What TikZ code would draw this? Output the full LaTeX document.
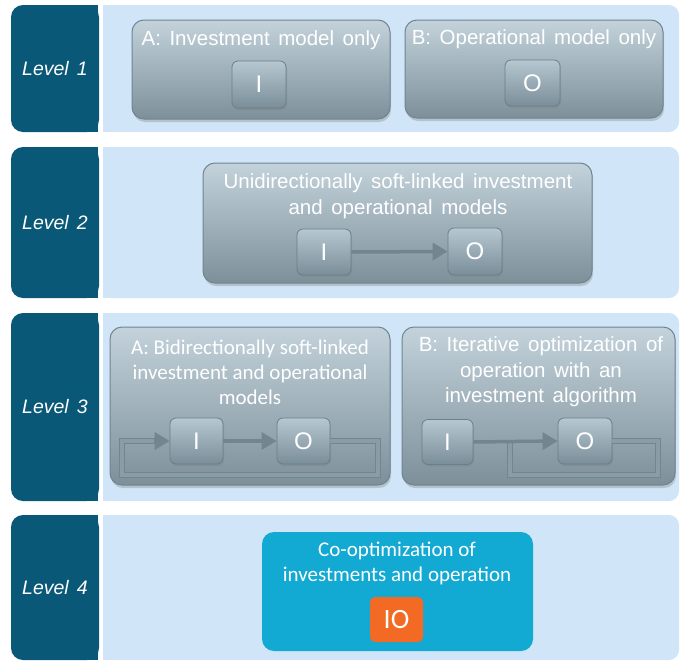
\documentclass[tikz,border=0pt]{standalone}
\usepackage{fontspec}
\setmainfont{Liberation Sans}[WordSpace=1.5]
\newfontfamily\calfont{Carlito}
\usetikzlibrary{shadows,arrows.meta}
\definecolor{dkblue}{HTML}{0A5878}
\definecolor{ltblue}{HTML}{D0E6F8}
\definecolor{gtop}{HTML}{C3D2DB}
\definecolor{gbot}{HTML}{7D909A}
\definecolor{gbord}{HTML}{6F8590}
\definecolor{stop}{HTML}{B6C7D1}
\definecolor{sbot}{HTML}{7A8E99}
\definecolor{sbord}{HTML}{6B7F89}
\definecolor{linkc}{HTML}{72868F}
\definecolor{loopin}{HTML}{8A9CA6}
\definecolor{cyanbox}{HTML}{12A9D3}
\definecolor{orangebox}{HTML}{F26A23}
\begin{document}
\begin{tikzpicture}[x=1pt,y=-1pt,
  lvl/.style={fill=dkblue, rounded corners=12pt, minimum width=88pt, inner sep=0pt,
    text=white, font=\itshape\fontsize{19.5}{23}\selectfont},
  panel/.style={fill=ltblue, rounded corners=10pt, minimum width=576pt, inner sep=0pt},
  graybox/.style={draw=gbord, line width=1pt, rounded corners=12pt, top color=gtop, bottom color=gbot,
    inner sep=0pt, drop shadow={opacity=0.35, shadow xshift=1pt, shadow yshift=-3pt}},
  smallbox/.style={draw=sbord, line width=0.8pt, rounded corners=6pt, top color=stop, bottom color=sbot,
    inner sep=0pt, text=white, font=\fontsize{24}{24}\selectfont,
    drop shadow={opacity=0.35, shadow xshift=1pt, shadow yshift=-2pt}},
  ttl/.style={text=white, align=center, inner sep=0pt, font=\fontsize{20.5}{25.5}\selectfont},
  cttl/.style={text=white, align=center, inner sep=0pt, font=\calfont\fontsize{21}{25}\selectfont},
  link/.style={draw=linkc, line width=3.5pt, -{Triangle[length=15pt,width=17pt]}},
  loopline/.style={draw=linkc, double=loopin, double distance=3.5pt, line width=1.2pt}
]
\useasboundingbox[fill=white] (0,0) rectangle (680,662);

% ---- level row backgrounds ----
\fill[dkblue] (54,5) rectangle (98,132);
\fill[ltblue] (103,5) rectangle (400,132);
\node[lvl, minimum height=127pt] (lv1) at (55,68.5) {Level 1};
\node[panel, minimum height=127pt] (p1) at (391,68.5) {};

\fill[dkblue] (54,147) rectangle (98,298);
\fill[ltblue] (103,147) rectangle (400,298);
\node[lvl, minimum height=151pt] (lv2) at (55,222.5) {Level 2};
\node[panel, minimum height=151pt] (p2) at (391,222.5) {};

\fill[dkblue] (54,313) rectangle (98,501);
\fill[ltblue] (103,313) rectangle (400,501);
\node[lvl, minimum height=188pt] (lv3) at (55,407) {Level 3};
\node[panel, minimum height=188pt] (p3) at (391,407) {};

\fill[dkblue] (54,515) rectangle (98,660);
\fill[ltblue] (103,515) rectangle (400,660);
\node[lvl, minimum height=145pt] (lv4) at (55,587.5) {Level 4};
\node[panel, minimum height=145pt] (p4) at (391,587.5) {};

% ---- Level 1 ----
\node[graybox, minimum width=258pt, minimum height=99pt] (b1a) at (261,69.5) {};
\node[ttl] (t1a) at (261,40) {A: Investment model only};
\node[smallbox, minimum width=54pt, minimum height=47pt] (i1) at (259,84.5) {I};

\node[graybox, minimum width=258pt, minimum height=98pt] (b1b) at (534,69) {};
\node[ttl] (t1b) at (534,39) {B: Operational model only};
\node[smallbox, minimum width=55pt, minimum height=46pt] (o1) at (532.5,83) {O};

% ---- Level 2 ----
\node[graybox, minimum width=389pt, minimum height=120pt] (b2) at (397.5,223) {};
\node[ttl] (t2) at (398,196) {Unidirectionally soft-linked investment\\and operational models};
\node[smallbox, minimum width=54pt, minimum height=46pt] (i2) at (324,252) {I};
\node[smallbox, minimum width=54pt, minimum height=47pt] (o2) at (475,251.5) {O};
\draw[link] (i2.east) -- (o2.west);

% ---- Level 3 A ----
\node[graybox, minimum width=280pt, minimum height=158pt] (b3a) at (250,406) {};
\node[cttl] (t3a) at (250,372) {A: Bidirectionally soft-linked\\investment and operational\\models};
\node[smallbox, minimum width=53pt, minimum height=46pt] (i3a) at (196.5,441) {I};
\node[smallbox, minimum width=53pt, minimum height=46pt] (o3a) at (303.5,441) {O};
\coordinate (la1) at (378,441);
\coordinate (la2) at (378,475);
\coordinate (la3) at (122,475);
\coordinate (la4) at (122,441);
\draw[loopline] (o3a.east) -- (la1) -- (la2) -- (la3) -- (la4) -- ([xshift=-14pt]i3a.west);
\draw[link] ([xshift=-16pt]i3a.west) -- (i3a.west);
\draw[link] (i3a.east) -- (o3a.west);

% ---- Level 3 B ----
\node[graybox, minimum width=273pt, minimum height=158pt] (b3b) at (538.5,406) {};
\node[ttl] (t3b) at (541,372) {B: Iterative optimization of\\operation with an\\investment algorithm};
\node[smallbox, minimum width=51pt, minimum height=45pt] (i3b) at (447.5,442) {I};
\node[smallbox, minimum width=54pt, minimum height=46pt] (o3b) at (585,441) {O};
\coordinate (lb1) at (658,441);
\coordinate (lb2) at (658,475);
\coordinate (lb3) at (510,475);
\coordinate (lb4) at (510,441);
\draw[loopline] (o3b.east) -- (lb1) -- (lb2) -- (lb3) -- (lb4);
\draw[link] (i3b.east) -- (o3b.west);

% ---- Level 4 ----
\node[fill=cyanbox, rounded corners=12pt, minimum width=271pt, minimum height=119pt, inner sep=0pt] (b4) at (397.5,591.5) {};
\node[cttl] (t4) at (397,563) {Co-optimization of\\investments and operation};
\node[fill=orangebox, rounded corners=5pt, minimum width=53pt, minimum height=45pt, inner sep=0pt,
  text=white, font=\calfont\fontsize{28}{28}\selectfont] (io) at (396.5,619.5) {IO};
\end{tikzpicture}
\end{document}
